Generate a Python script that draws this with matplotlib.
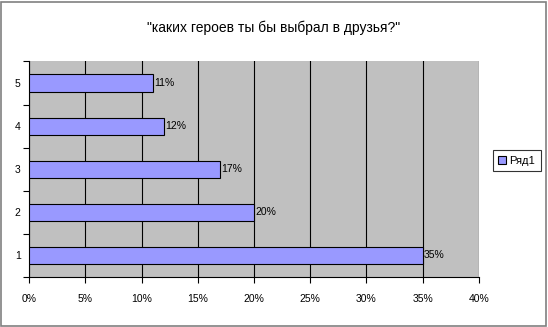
import matplotlib.pyplot as plt
from matplotlib.patches import Rectangle

categories = ['1', '2', '3', '4', '5']
values = [35, 20, 17, 12, 11]
labels = ['35%', '20%', '17%', '12%', '11%']
xticks = [0, 5, 10, 15, 20, 25, 30, 35, 40]
title = '"каких героев ты бы выбрал в друзья?"'
series_name = 'Ряд1'

plt.rcParams['font.family'] = ['Liberation Sans', 'DejaVu Sans']

fig = plt.figure(figsize=(5.48, 3.27), dpi=100)
fig.patch.set_facecolor('white')
# outer chart border
fig.add_artist(Rectangle((0.002, 0.004), 0.994, 0.99, transform=fig.transFigure,
                         fill=False, edgecolor='#808080', linewidth=1.2))

ax = fig.add_axes([0.053, 0.153, 0.821, 0.659])
ax.set_facecolor('#C0C0C0')

y = list(range(len(categories)))
ax.barh(y, values, height=0.4, color='#9999FF', edgecolor='black', linewidth=0.8,
        label=series_name, zorder=3)
for yi, v, lab in zip(y, values, labels):
    ax.text(v + 0.1, yi, lab, va='center', ha='left', fontsize=7.5, zorder=4)

ax.set_xlim(0, 40)
ax.set_ylim(-0.5, len(categories) - 0.5)
ax.set_xticks(xticks)
ax.set_xticklabels([f'{t}%' for t in xticks], fontsize=7.5)
ax.set_yticks(y)
ax.set_yticklabels(categories, fontsize=7.5)
ax.set_yticks([i - 0.5 for i in range(len(categories) + 1)], minor=True)
ax.tick_params(axis='y', which='major', length=0, pad=6)
ax.tick_params(axis='y', which='minor', length=4, direction='out', width=0.8)
ax.tick_params(axis='x', length=4, width=0.8, pad=8)
ax.xaxis.grid(True, color='black', linewidth=0.8, zorder=1)
ax.set_axisbelow(True)
for side in ['top', 'right']:
    ax.spines[side].set_visible(False)
ax.spines['left'].set_linewidth(0.8)
ax.spines['bottom'].set_linewidth(0.8)

fig.text(0.5, 0.915, title, ha='center', va='center', fontsize=10)

leg = fig.legend(loc='center', bbox_to_anchor=(0.943, 0.508), fontsize=8,
                 frameon=True, fancybox=False, edgecolor='black',
                 handlelength=0.7, handleheight=0.7, handletextpad=0.3,
                 borderpad=0.5)
leg.get_frame().set_linewidth(0.8)

fig.savefig('out.png', dpi=100)
